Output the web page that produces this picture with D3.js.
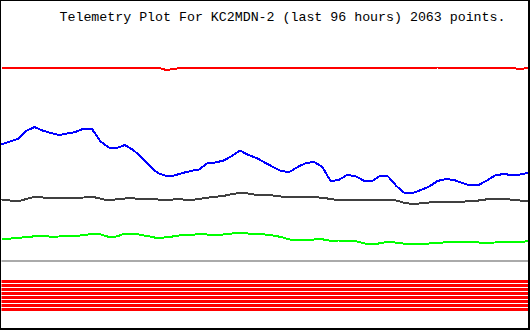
<!DOCTYPE html>
<html>
<head>
<meta charset="utf-8">
<script src="https://cdn.jsdelivr.net/npm/d3@7"></script>
<style>
    body { margin: 0; background: #fff; }
    svg { display: block; }
</style>
</head>
<body>
<div id="plot"></div>
<script>
// Telemetry channels, raw 0-255 values, sampled every 1.5 hours over 96 hours.
var title = "Telemetry Plot For KC2MDN-2 (last 96 hours) 2063 points.";
var hours = d3.range(0, 96.5, 1.5);

var channel1 = [192.5, 192.5, 192.5, 192.5, 192.5, 192.5, 192.5, 192, 192.5, 192.5,
    192.5, 192, 192.5, 192.5, 192.5, 192.5, 192.5, 192.5, 192.5, 192.5,
    190, 191, 192.5, 192.5, 192.5, 192.5, 192.5, 192.5, 192.5, 192.5,
    192.5, 192.5, 192.5, 192.5, 192, 192.5, 192.5, 192.5, 192.5, 192.5,
    192.5, 192, 192.5, 192.5, 192.5, 192.5, 192.5, 192.5, 192.5, 192.5,
    192.5, 192.5, 192, 192.5, 192.5, 192.5, 192.5, 192.5, 192.5, 192.5,
    192.5, 192.5, 192.5, 190.5, 192.5];
var channel2 = [115.5, 118.5, 121, 129, 133, 129.5, 127, 125, 126.5, 128,
    131.5, 131, 119, 112.5, 112, 115, 110, 103, 94, 87,
    84, 84.5, 87, 89, 90.5, 96.5, 97.5, 99.5, 104, 109.5,
    105, 102, 97.5, 93, 89, 88, 93, 97, 98, 93,
    79, 80, 85, 84, 79.5, 78.5, 84, 83.5, 74, 67,
    67, 70, 73.5, 79, 81, 80, 77, 74.5, 75, 79.5,
    84.5, 86, 85, 85.5, 87];
var channel3 = [60.5, 59.5, 58.5, 61, 63, 62.5, 62.3, 62.3, 62.3, 62.3,
    62.5, 63.2, 61.5, 59.5, 60.7, 61.5, 61.7, 60.8, 60.7, 60.5,
    59.7, 60.7, 60.5, 60, 61, 62.3, 63.2, 64, 66, 67,
    66.5, 65, 65, 64.5, 63.5, 63, 62.7, 63, 62.8, 62.3,
    61, 59.8, 60, 59.8, 60, 60, 60, 60.5, 59.5, 57,
    56, 56.7, 57.5, 57.8, 58.3, 58.3, 58.3, 58.8, 59.5, 60.7,
    61.5, 61.5, 60.2, 59.5, 59];
var channel4 = [21.3, 21.3, 22.2, 22.8, 23.7, 24.2, 23.3, 23.5, 23.7, 24,
    25, 26, 25.7, 23.2, 23.5, 26.5, 26.5, 25, 23.5, 21.8,
    22.7, 23.7, 25, 25.3, 25.7, 25.5, 25, 25.5, 26.5, 26.7,
    26.5, 26, 25.5, 24.5, 23, 20.5, 20, 20, 20.5, 20.7,
    19.2, 19.5, 19.5, 19, 16.7, 15.5, 16.7, 18.3, 17.3, 16.3,
    16, 16, 16.5, 17, 17.7, 18, 18.3, 17.8, 17.5, 17.3,
    17.5, 17.8, 18.2, 17.7, 19];

// Digital bits, all stayed on for the whole period.
var bitNames = ["B1", "B2", "B3", "B4", "B5", "B6", "B7", "B8"];
var bitValues = [1, 1, 1, 1, 1, 1, 1, 1];

var width = 530, height = 330;

var svg = d3.select("#plot").append("svg")
    .attr("width", width)
    .attr("height", height);

// Frame: 1px on the top/left, 2px on the right/bottom.
svg.append("rect")
    .attr("width", width).attr("height", height)
    .attr("fill", "#000");
svg.append("rect")
    .attr("x", 1).attr("y", 1)
    .attr("width", width - 3).attr("height", height - 3)
    .attr("fill", "#fff");

svg.append("text")
    .attr("x", 59.5)
    .attr("y", 21)
    .attr("font-family", "'Liberation Mono', 'DejaVu Sans Mono', monospace")
    .attr("font-size", "13.3px")
    .attr("textLength", 446)
    .attr("fill", "#000")
    .text(title);

var x = d3.scaleLinear().domain([0, 96]).range([1.5, 528]);
var y = d3.scaleLinear().domain([0, 255]).range([260, 5]);
var bitY = d3.scaleBand().domain(bitNames).range([280, 311]).paddingInner(0.25);

// Zero baseline
svg.append("rect")
    .attr("x", x(0)).attr("y", y(0))
    .attr("width", x(96) - x(0)).attr("height", 2)
    .attr("fill", "#aaaaaa");

var series = [
    { values: channel1, color: "#ff0000" },
    { values: channel2, color: "#0000ff" },
    { values: channel3, color: "#404040" },
    { values: channel4, color: "#00ff00" }
];

var line = d3.line()
    .x(function (d, i) { return x(hours[i]); })
    .y(function (d) { return y(d); });

svg.selectAll("path.channel")
    .data(series)
    .enter().append("path")
    .attr("class", "channel")
    .attr("d", function (d) { return line(d.values); })
    .attr("fill", "none")
    .attr("stroke", function (d) { return d.color; })
    .attr("stroke-width", 2)
    .attr("shape-rendering", "crispEdges");

// Bit rows: a solid band for every bit that is set.
svg.selectAll("rect.bit")
    .data(bitNames.filter(function (b, i) { return bitValues[i] === 1; }))
    .enter().append("rect")
    .attr("class", "bit")
    .attr("x", x(hours[0]))
    .attr("y", function (d) { return bitY(d); })
    .attr("width", x(hours[hours.length - 1]) - x(hours[0]))
    .attr("height", bitY.bandwidth())
    .attr("fill", "#ff0000");
</script>
</body>
</html>
